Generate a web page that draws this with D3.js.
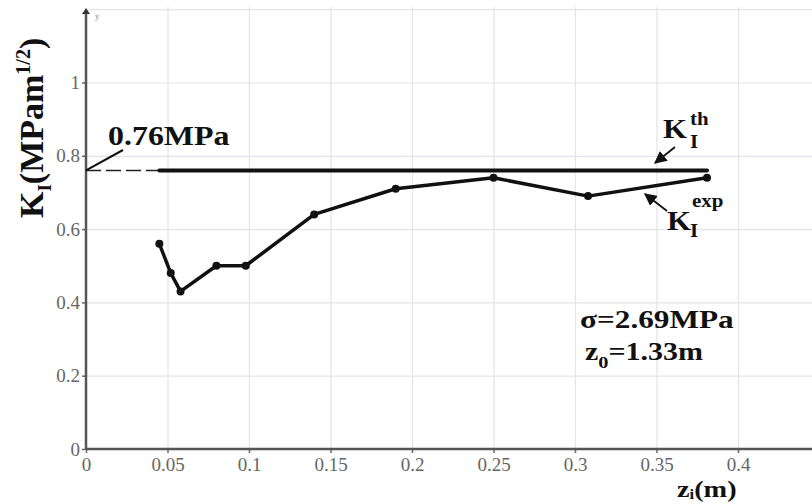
<!DOCTYPE html>
<html>
<head>
<meta charset="utf-8">
<script src="https://cdn.jsdelivr.net/npm/d3@7"></script>
<style>
  body { margin: 0; background: #fff; }
  svg { display: block; }
  .tick text { font-family: "Liberation Serif", "Times New Roman", serif; fill: #666; }
  .lbl { font-family: "Liberation Serif", "Times New Roman", serif; font-weight: bold; fill: #111; }
</style>
</head>
<body>
<svg width="812" height="504"></svg>
<script>
// data
const zi = [0.045, 0.052, 0.058, 0.08, 0.098, 0.14, 0.19, 0.25, 0.308, 0.381];
const kExp = [0.56, 0.48, 0.43, 0.50, 0.50, 0.64, 0.71, 0.74, 0.69, 0.74];
const kTh = 0.76;
const kThRange = [0.045, 0.381];
const xTicks = [0, 0.05, 0.1, 0.15, 0.2, 0.25, 0.3, 0.35, 0.4];
const xTickLabels = ["0", "0.05", "0.1", "0.15", "0.2", "0.25", "0.3", "0.35", "0.4"];
const xGrid = [0.05, 0.1, 0.15, 0.2, 0.25, 0.3, 0.35, 0.4, 0.45];
const yTicks = [0, 0.2, 0.4, 0.6, 0.8, 1];
const yTickLabels = ["0", "0.2", "0.4", "0.6", "0.8", "1"];
const yGrid = [0.2, 0.4, 0.6, 0.8, 1, 1.2];

const svg = d3.select("svg");
const W = 812, gridTop = 7;

const x = d3.scaleLinear().domain([0, 0.4]).range([86, 738]);
const y = d3.scaleLinear().domain([0, 1]).range([449, 82.5]);

// grid
svg.append("g")
.attr("transform", `translate(0,${y(0)})`)
.call(d3.axisBottom(x).tickValues(xGrid).tickSize(-(y(0) - gridTop)).tickFormat(""))
.call(g => g.select(".domain").remove())
.selectAll("line").attr("stroke", "#e3e3ea").attr("stroke-width", 1.2);

svg.append("g")
.attr("transform", `translate(${x(0)},0)`)
.call(d3.axisRight(y).tickValues(yGrid).tickSize(W - x(0)).tickFormat(""))
.call(g => g.select(".domain").remove())
.selectAll("line").attr("stroke", "#e3e3ea").attr("stroke-width", 1.2);

// axes
const xAxis = svg.append("g")
.attr("transform", `translate(0,${y(0)})`)
.call(d3.axisBottom(x).tickValues(xTicks).tickFormat((d, i) => xTickLabels[i]).tickSizeInner(4).tickSizeOuter(0).tickPadding(5));
xAxis.select(".domain").remove();
xAxis.selectAll("line").attr("stroke", "#666").attr("stroke-width", 1.5);
xAxis.selectAll("text").attr("font-size", 19);

const yAxis = svg.append("g")
.attr("transform", `translate(${x(0)},0)`)
.call(d3.axisLeft(y).tickValues(yTicks).tickFormat((d, i) => yTickLabels[i]).tickSizeInner(4).tickSizeOuter(0).tickPadding(2));
yAxis.select(".domain").remove();
yAxis.selectAll("line").attr("stroke", "#666").attr("stroke-width", 1.5);
yAxis.selectAll("text").attr("font-size", 19);

// axis lines
svg.append("line")
.attr("x1", x(0)).attr("x2", W).attr("y1", y(0)).attr("y2", y(0))
.attr("stroke", "#555").attr("stroke-width", 2.5);
svg.append("line")
.attr("x1", x(0)).attr("x2", x(0)).attr("y1", y(0)).attr("y2", 11)
.attr("stroke", "#555").attr("stroke-width", 2.5);
svg.append("path")
.attr("d", `M${x(0) - 4},14 L${x(0)},8 L${x(0) + 4},14 Z`)
.attr("fill", "#333");
svg.append("text")
.attr("x", x(0) + 9).attr("y", 19)
.attr("font-family", "Liberation Serif, serif").attr("font-size", 9).attr("fill", "#888")
.text("y");

// theoretical K line + dashed extension
svg.append("line")
.attr("x1", x(0)).attr("x2", x(kThRange[0])).attr("y1", y(kTh)).attr("y2", y(kTh))
.attr("stroke", "#222").attr("stroke-width", 1.5).attr("stroke-dasharray", "15,5");
svg.append("line")
.attr("x1", x(kThRange[0])).attr("x2", x(kThRange[1])).attr("y1", y(kTh)).attr("y2", y(kTh))
.attr("stroke", "#111").attr("stroke-width", 4).attr("stroke-linecap", "round");

// experimental line
const pts = zi.map((d, i) => [d, kExp[i]]);
svg.append("path")
.datum(pts)
.attr("d", d3.line().x(d => x(d[0])).y(d => y(d[1])))
.attr("fill", "none").attr("stroke", "#111").attr("stroke-width", 3.5).attr("stroke-linejoin", "round");
svg.selectAll(".pt")
.data(pts)
.join("circle")
.attr("class", "pt")
.attr("cx", d => x(d[0])).attr("cy", d => y(d[1])).attr("r", 4)
.attr("fill", "#111");

// labels
function label(tx, ty, sx, size) {
    return svg.append("text").attr("class", "lbl")
    .attr("transform", `translate(${tx},${ty}) scale(${sx},1)`)
    .attr("font-size", size);
}

// 0.76MPa with leader
label(108, 145, 1.14, 28).text("0.76MPa");
svg.append("line")
.attr("x1", x(0)).attr("y1", y(kTh)).attr("x2", 123).attr("y2", 150)
.attr("stroke", "#111").attr("stroke-width", 2);

// y title
const yt = svg.append("text").attr("class", "lbl")
.attr("transform", "translate(43,218) rotate(-90)")
.attr("font-size", 34);
yt.append("tspan").text("K");
yt.append("tspan").attr("font-size", 19).attr("dy", 8).text("I");
yt.append("tspan").attr("dy", -8).text("(MPam");
yt.append("tspan").attr("font-size", 20).attr("dy", -13).text("1/2");
yt.append("tspan").attr("dy", 13).text(")");

// x title
const xt = label(677, 497, 1.18, 24);
xt.append("tspan").text("z");
xt.append("tspan").attr("font-size", 14).attr("dy", 2).text("i");
xt.append("tspan").attr("dy", -2).text("(m)");

// K_I^th
label(663, 138, 1.1, 28).text("K");
label(690, 125, 1.1, 19).text("th");
label(690, 148, 1.1, 19).text("I");
// K_I^exp
label(667, 230, 1.1, 28).text("K");
label(692, 207, 1.1, 19).text("exp");
label(690, 237, 1.1, 19).text("I");

// arrows
svg.append("defs").append("marker")
.attr("id", "ah").attr("viewBox", "0 0 10 10").attr("refX", 9).attr("refY", 5)
.attr("markerWidth", 7).attr("markerHeight", 7).attr("orient", "auto")
.append("path").attr("d", "M0,0 L10,5 L0,10 Z").attr("fill", "#111");
svg.append("line")
.attr("x1", 675).attr("y1", 147).attr("x2", 655).attr("y2", 163)
.attr("stroke", "#111").attr("stroke-width", 1.8).attr("marker-end", "url(#ah)");
svg.append("line")
.attr("x1", 667).attr("y1", 211).attr("x2", 645).attr("y2", 194)
.attr("stroke", "#111").attr("stroke-width", 1.8).attr("marker-end", "url(#ah)");

// parameters
label(580, 328, 1.25, 25).text("σ=2.69MPa");
const zt = label(585, 360, 1.2, 25);
zt.append("tspan").text("z");
zt.append("tspan").attr("font-size", 17).attr("dy", 8).text("0");
zt.append("tspan").attr("dy", -8).text("=1.33m");
</script>
</body>
</html>
